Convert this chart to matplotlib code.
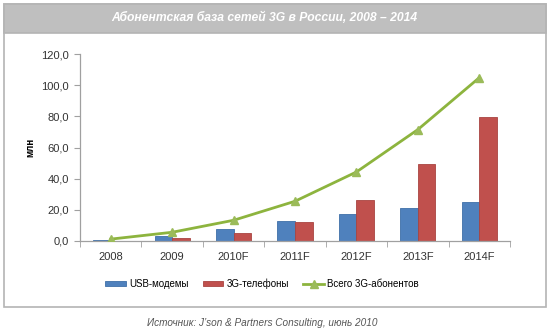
import matplotlib.pyplot as plt
import numpy as np
from matplotlib.patches import Rectangle
from matplotlib.ticker import FuncFormatter

years = ["2008", "2009", "2010F", "2011F", "2012F", "2013F", "2014F"]
usb_modems = [0.5, 3.2, 7.5, 12.8, 17.3, 21.4, 25.0]
phones_3g = [0.1, 1.7, 5.3, 12.4, 26.5, 49.4, 79.6]
total_3g = [1.2, 5.6, 13.3, 25.5, 44.3, 71.5, 104.8]

plt.rcParams['font.family'] = ['Liberation Sans', 'DejaVu Sans']

fig = plt.figure(figsize=(5.5, 3.33), dpi=100)
W, H = 550, 333

# frame and grey title band (kept behind the axes)
fig.patches.append(Rectangle((4 / W, 1 - 307 / H), 542 / W, 303 / H,
                             transform=fig.transFigure, facecolor="white",
                             edgecolor="#b4b4b4", lw=1.2, zorder=-10))
fig.patches.append(Rectangle((4 / W, 1 - 33 / H), 542 / W, 29 / H,
                             transform=fig.transFigure, facecolor="#bfbfbf",
                             edgecolor="#b4b4b4", lw=1.2, zorder=-9))
fig.text(264 / W, 1 - 18 / H, "Абонентская база сетей 3G в России, 2008 – 2014",
         ha="center", va="center", color="white", fontsize=8.7,
         fontweight="bold", fontstyle="italic")

ax = fig.add_axes([80 / W, 1 - 241 / H, 430 / W, 187 / H])
ax.set_facecolor("none")
x = np.arange(len(years))
w = 0.285
b1 = ax.bar(x - w / 2, usb_modems, w, color="#4f81bd", edgecolor="#3f6fa8", lw=0.6,
            label="USB-модемы", zorder=2)
b2 = ax.bar(x + w / 2, phones_3g, w, color="#c0504d", edgecolor="#a94441", lw=0.6,
            label="3G-телефоны", zorder=2)
l1, = ax.plot(x, total_3g, color="#8db43e", lw=2, marker="^", ms=6,
              markerfacecolor="#9bbb59", markeredgecolor="#9bbb59",
              label="Всего 3G-абонентов", zorder=3)

ax.set_xlim(-0.5, len(years) - 0.5)
ax.set_ylim(0, 120)
ax.set_yticks(np.arange(0, 121, 20))
ax.yaxis.set_major_formatter(FuncFormatter(lambda v, p: f"{v:.1f}".replace(".", ",")))
ax.set_xticks(x)
ax.set_xticklabels(years)
ax.set_xticks(np.arange(-0.5, len(years), 1), minor=True)
ax.tick_params(axis="x", which="major", length=0, pad=8)
ax.tick_params(axis="x", which="minor", length=4, color="#a0a0a0", direction="out")
ax.tick_params(axis="y", length=4, color="#a0a0a0", direction="out", pad=4)
ax.tick_params(labelsize=8, labelcolor="#333333")

for side in ("top", "right"):
    ax.spines[side].set_visible(False)
for side in ("left", "bottom"):
    ax.spines[side].set_color("#a0a0a0")
    ax.spines[side].set_linewidth(0.9)

ax.set_ylabel("млн", fontsize=7, fontweight="bold", labelpad=4)

ax.legend([b1, b2, l1], ["USB-модемы", "3G-телефоны", "Всего 3G-абонентов"],
          loc="center", bbox_to_anchor=(0.423, -0.23), ncol=3, frameon=False,
          fontsize=7, handlelength=2.1, handleheight=0.4, columnspacing=1.5,
          handletextpad=0.3)

fig.text(262 / W, 1 - 323 / H, "Источник: J’son & Partners Consulting, июнь 2010",
         ha="center", va="center", color="#555555", fontsize=7.2,
         fontstyle="italic")

fig.savefig("out.png", dpi=100)
